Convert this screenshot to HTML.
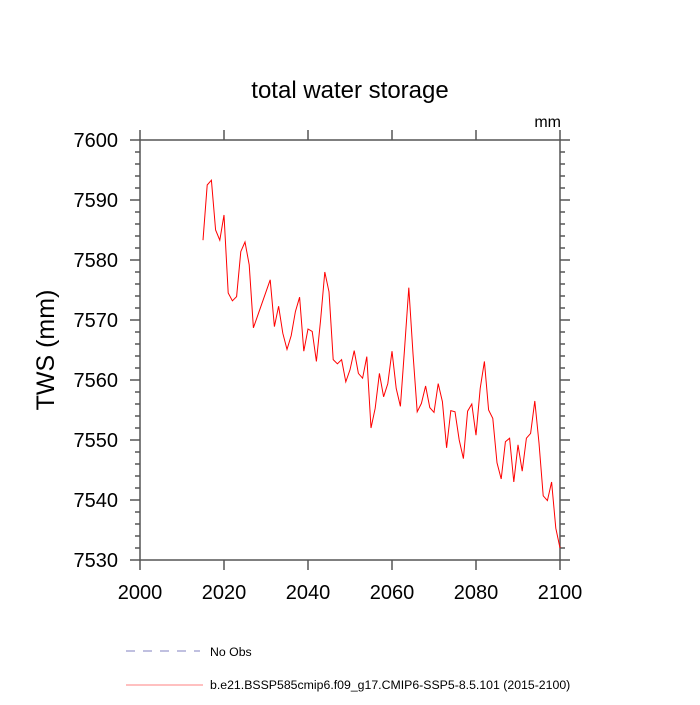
<!DOCTYPE html>
<html><head><meta charset="utf-8"><style>
body{margin:0;background:#fff;}
svg text{font-family:"Liberation Sans",sans-serif;fill:#000;}
</style></head><body>
<svg id="chart" width="700" height="700" viewBox="0 0 700 700" xmlns="http://www.w3.org/2000/svg">
<text x="350" y="98" font-size="24" text-anchor="middle">total water storage</text>
<text x="561" y="127" font-size="16" text-anchor="end">mm</text>
<text transform="translate(54,350) rotate(-90)" font-size="25" text-anchor="middle">TWS  (mm)</text>
<g id="axes"></g>
<polyline id="series" fill="none" stroke="#ff0000" stroke-width="1"/>
<g>
<line x1="126" y1="651" x2="200" y2="651" stroke="#8080c0" stroke-width="1" stroke-dasharray="9,8"/>
<text x="210" y="656" font-size="12.3">No Obs</text>
<line x1="126" y1="685" x2="203" y2="685" stroke="#ff8080" stroke-width="1"/>
<text x="210" y="689" font-size="12.3">b.e21.BSSP585cmip6.f09_g17.CMIP6-SSP5-8.5.101 (2015-2100)</text>
</g>
</svg>
<script>
const years = [];
for (let y = 2015; y <= 2100; y++) years.push(y);
const tws = [7583.3,7592.5,7593.3,7585,7583.3,7587.5,7574.5,7573.2,7573.9,7581.4,7583,7579.2,7568.7,7570.7,7572.7,7574.7,7576.7,7568.9,7572.3,7567.8,7565.1,7567.4,7571.4,7573.8,7564.8,7568.5,7568.1,7563.1,7570,7578,7574.7,7563.4,7562.7,7563.4,7559.7,7561.7,7564.9,7561.1,7560.3,7563.9,7552,7555.3,7561.1,7557.2,7559.4,7564.8,7558.6,7555.6,7565.3,7575.4,7564.4,7554.7,7556.1,7559,7555.4,7554.6,7559.4,7556.4,7548.7,7554.9,7554.7,7550,7546.9,7554.8,7556,7550.8,7558.6,7563.1,7555,7553.6,7546.2,7543.5,7549.7,7550.3,7543,7549.2,7544.8,7550.3,7551.1,7556.5,7549.5,7540.7,7539.9,7543,7535.3,7532];
const xTicks = [2000,2020,2040,2060,2080,2100];
const yTicks = [7530,7540,7550,7560,7570,7580,7590,7600];
const xMin=2000,xMax=2100,yMin=7530,yMax=7600;
const L=140,R=560,T=140,B=560;
const sx=v=>L+(v-xMin)/(xMax-xMin)*(R-L);
const sy=v=>B-(v-yMin)/(yMax-yMin)*(B-T);
const NS="http://www.w3.org/2000/svg";
const g=document.getElementById('axes');
function mk(tag,attrs){const e=document.createElementNS(NS,tag);for(const k in attrs)e.setAttribute(k,attrs[k]);g.appendChild(e);return e;}
const frame=mk('rect',{x:L,y:T,width:R-L,height:B-T,fill:'none',stroke:'#555',"stroke-width":1.5});


xTicks.forEach(v=>{
  const x=sx(v);
  const t1=mk('line',{x1:x,y1:B,x2:x,y2:B+10,stroke:'#555',"stroke-width":1.5});
  
  
  const t2=mk('line',{x1:x,y1:T,x2:x,y2:T-10,stroke:'#555',"stroke-width":1.5});
  
  
  const lb=mk('text',{x:x,y:B+39,"font-size":20,"text-anchor":"middle"});
  lb.textContent=v;
  
  
});
for(let v=yMin;v<=yMax;v+=2){
  const y=sy(v);const major=(v%10===0);const len=major?10:5;
  const a=mk('line',{x1:L-len,y1:y,x2:L,y2:y,stroke:'#555',"stroke-width":1.5});
  
  
  const b=mk('line',{x1:R,y1:y,x2:R+len,y2:y,stroke:'#555',"stroke-width":1.5});
  
  
}
yTicks.forEach(v=>{
  const lb=mk('text',{x:L-22,y:sy(v)+7,"font-size":20,"text-anchor":"end"});
  lb.textContent=v;
  
  
});
document.getElementById('series').setAttribute('points',years.map((yr,i)=>sx(yr).toFixed(1)+','+sy(tws[i]).toFixed(1)).join(' '));
</script>
</body></html>
